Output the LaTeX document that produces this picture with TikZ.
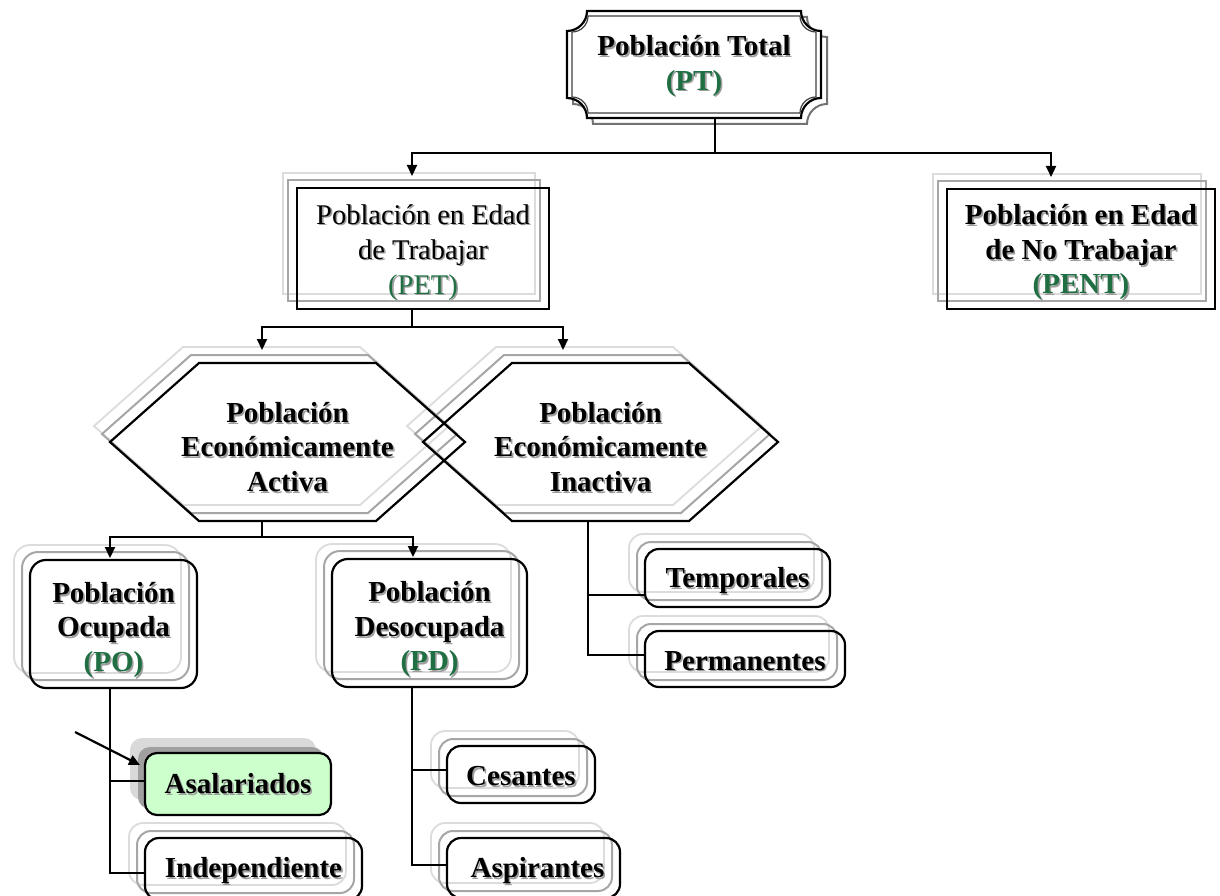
\documentclass[tikz,border=0pt]{standalone}
\usepackage{fontspec}
\setmainfont{Liberation Serif}
\usetikzlibrary{arrows.meta,backgrounds}
\definecolor{pgreen}{HTML}{1F6F43}
\definecolor{shmid}{HTML}{A6A6A6}
\definecolor{shlight}{HTML}{DCDCDC}
\definecolor{asfill}{HTML}{CCFFCC}
\definecolor{asdark}{HTML}{A0A0A0}
\definecolor{aslight}{HTML}{D9D9D9}
\newif\ifshtxt
\newcommand\grn[1]{\ifshtxt#1\else\textcolor{pgreen}{#1}\fi}
\tikzset{
  txt/.style={font=\fontsize{29}{34.5}\selectfont\bfseries, align=center, inner sep=0pt},
  frame/.style={draw, line width=2.2pt, inner sep=0pt, outer sep=0pt},
  ghost/.style={inner sep=0pt, outer sep=0pt},
  rbox/.style={frame, rounded corners=14pt},
  shm/.style={draw=shmid, line width=2pt},
  shl/.style={draw=shlight, line width=1.8pt},
  conn/.style={line width=2.2pt},
  arr/.style={conn, -{Triangle[length=11pt,width=10pt]}},
}
% label with gray drop shadow
\newcommand\lbl[3][]{%
  \node[txt,#1,text=black!38,execute at begin node=\shtxttrue,shift={(1.6,1.6)}] (#2-ts) at (#2.center) {#3};
  \node[txt,#1] (#2-t) at (#2.center) {#3};}
% rectangle copy-shadow
\newcommand\rsh[4]{\draw[#4] ([shift={(#2,#3)}]#1.south west) rectangle ([shift={(#2,#3)}]#1.north east);}
% hexagon path around a node
\newcommand\hexp[3]{([shift={(#2,#3)}]#1.west) -- ([shift={(#2+89,#3)}]#1.north west) -- ([shift={(#2-89,#3)}]#1.north east) -- ([shift={(#2,#3)}]#1.east) -- ([shift={(#2-89,#3)}]#1.south east) -- ([shift={(#2+89,#3)}]#1.south west) -- cycle}
% plaque (concave corners)
\newcommand\plaque[5]{({#1+#5},#2) -- ({#3-#5},#2) .. controls ({#3-#5},{#2+0.55*#5}) and ({#3-0.55*#5},{#2+#5}) .. (#3,{#2+#5}) -- (#3,{#4-#5}) .. controls ({#3-0.55*#5},{#4-#5}) and ({#3-#5},{#4-0.55*#5}) .. ({#3-#5},#4) -- ({#1+#5},#4) .. controls ({#1+#5},{#4-0.55*#5}) and ({#1+0.55*#5},{#4-#5}) .. (#1,{#4-#5}) -- (#1,{#2+#5}) .. controls ({#1+0.55*#5},{#2+#5}) and ({#1+#5},{#2+0.55*#5}) .. ({#1+#5},#2) -- cycle}
\begin{document}
\begin{tikzpicture}[x=1pt,y=-1pt]
\useasboundingbox (0,0) rectangle (1220,896);
\clip (0,0) rectangle (1220,896);

% ---------- Poblacion Total ----------
\draw[draw=black!55, line width=2pt] \plaque{573}{17}{827}{124}{20};
\draw[fill=white, line width=2.2pt] \plaque{567}{11}{821}{118}{20};
\draw[draw=black!75, line width=1.2pt] \plaque{572}{16}{816}{113}{16};
\node[ghost, minimum width=254pt, minimum height=107pt] (pt) at (694,64.5) {};
\lbl[shift={(0,1.5)}]{pt}{Población Total\\\grn{(PT)}}

% ---------- boxes ----------
\node[frame, minimum width=252pt, minimum height=121pt] (pet) at (423,248.5) {};
\node[frame, minimum width=268pt, minimum height=120pt] (pent) at (1081,249) {};
\node[ghost, minimum width=355pt, minimum height=158pt] (pea) at (287.5,442) {};
\node[ghost, minimum width=355pt, minimum height=158pt] (pei) at (600.5,442) {};
\node[rbox, rounded corners=16pt, minimum width=167pt, minimum height=128pt] (po) at (113.5,624) {};
\node[rbox, rounded corners=16pt, minimum width=195pt, minimum height=128pt] (pd) at (429.5,623) {};
\node[ghost, minimum width=186pt, minimum height=62pt] (asal) at (238,784) {};
\node[rbox, minimum width=217pt, minimum height=62pt] (indep) at (253.5,869) {};
\node[rbox, minimum width=148pt, minimum height=57pt] (ces) at (521,774.5) {};
\node[rbox, minimum width=173pt, minimum height=60pt] (asp) at (533.5,868) {};
\node[rbox, minimum width=185pt, minimum height=58pt] (temp) at (737.5,578) {};
\node[rbox, minimum width=200pt, minimum height=56pt] (perm) at (745,659) {};

% ---------- copy shadows ----------
\begin{scope}[on background layer]
  \fill[white] (0,0) rectangle (1220,896);
  \rsh{pet}{-14}{-15}{shl}  \rsh{pet}{-9}{-8}{shm}
  \rsh{pent}{-14}{-15}{shl} \rsh{pent}{-9}{-8}{shm}
  \draw[shl] \hexp{pea}{-16}{-16}; \draw[shm] \hexp{pea}{-8}{-8};
  \draw[shl] \hexp{pei}{-16}{-16}; \draw[shm] \hexp{pei}{-8}{-8};
  \rsh{po}{-16}{-15}{shl,rounded corners=16pt} \rsh{po}{-8}{-8}{shm,rounded corners=16pt}
  \rsh{pd}{-16}{-15}{shl,rounded corners=16pt} \rsh{pd}{-8}{-8}{shm,rounded corners=16pt}
  \foreach \n in {indep,ces,asp,temp,perm}{
    \rsh{\n}{-16}{-15}{shl,rounded corners=14pt} \rsh{\n}{-8}{-7}{shm,rounded corners=14pt}
  }
\end{scope}

% Asalariados (filled, with filled shadows)
\fill[aslight, rounded corners=12pt] ([shift={(-15,-15)}]asal.south west) rectangle ([shift={(-15,-15)}]asal.north east);
\fill[asdark, rounded corners=12pt] ([shift={(-7,-6)}]asal.south west) rectangle ([shift={(-7,-6)}]asal.north east);
\draw[fill=asfill, line width=2.2pt, rounded corners=12pt] (asal.south west) rectangle (asal.north east);

% hexagons
\draw[line width=2.2pt] \hexp{pea}{0}{0};
\draw[line width=2.2pt] \hexp{pei}{0}{0};

% ---------- labels ----------
\lbl[font=\fontsize{28.5}{35}\selectfont\mdseries, shift={(0,4)}]{pet}{Población en Edad\\de Trabajar\\\grn{(PET)}}
\lbl[shift={(0,3.5)}]{pent}{Población en Edad\\de No Trabajar\\\grn{(PENT)}}
\lbl[shift={(0,5)}]{pea}{Población\\Económicamente\\Activa}
\lbl[shift={(0,5)}]{pei}{Población\\Económicamente\\Inactiva}
\lbl[shift={(0,6)}]{po}{Población\\Ocupada\\\grn{(PO)}}
\lbl[shift={(0,6.5)}]{pd}{Población\\Desocupada\\\grn{(PD)}}
\lbl{asal}{Asalariados}
\lbl[shift={(0,1.5)}]{indep}{Independiente}
\lbl[shift={(0,2)}]{ces}{Cesantes}
\lbl[shift={(4,2.5)}]{asp}{Aspirantes}
\lbl[shift={(0,2.5)}]{temp}{Temporales}
\lbl[shift={(0,2)}]{perm}{Permanentes}

% ---------- connectors ----------
\coordinate (j1) at ([shift={(21,35)}]pt.south);
\draw[conn] ([shift={(21,0)}]pt.south) -- (j1);
\draw[arr] (j1) -| ([shift={(-11,-12)}]pet.north);
\draw[arr] (j1) -| ([shift={(-30,-12)}]pent.north);

\coordinate (j2) at ([shift={(-11,18)}]pet.south);
\draw[conn] ([shift={(-11,0)}]pet.south) -- (j2);
\draw[arr] (j2) -| ([shift={(-25.5,-13)}]pea.north);
\draw[arr] (j2) -| ([shift={(-37.5,-13)}]pei.north);

\coordinate (j3) at ([shift={(-25.5,16)}]pea.south);
\draw[conn] ([shift={(-25.5,0)}]pea.south) -- (j3);
\draw[arr] (j3) -| ([shift={(-3.5,-2)}]po.north);
\draw[arr] (j3) -| ([shift={(-16.5,-2)}]pd.north);

\draw[conn] ([shift={(-12.5,0)}]pei.south) |- ([shift={(0,17)}]temp.west);
\draw[conn] ([shift={(-12.5,0)}]pei.south) |- ([shift={(0,-4)}]perm.west);

\draw[conn] ([shift={(-3.5,0)}]po.south) |- ([shift={(0,-3)}]asal.west);
\draw[conn] ([shift={(-3.5,0)}]po.south) |- ([shift={(0,4)}]indep.west);

\draw[conn] ([shift={(-17.5,0)}]pd.south) |- ([shift={(0,-4.5)}]ces.west);
\draw[conn] ([shift={(-17.5,0)}]pd.south) |- ([shift={(0,-3)}]asp.west);

\coordinate (fa) at (75,732);
\draw[arr] (fa) -- ([shift={(-5,12)}]asal.north west);
\end{tikzpicture}
\end{document}
